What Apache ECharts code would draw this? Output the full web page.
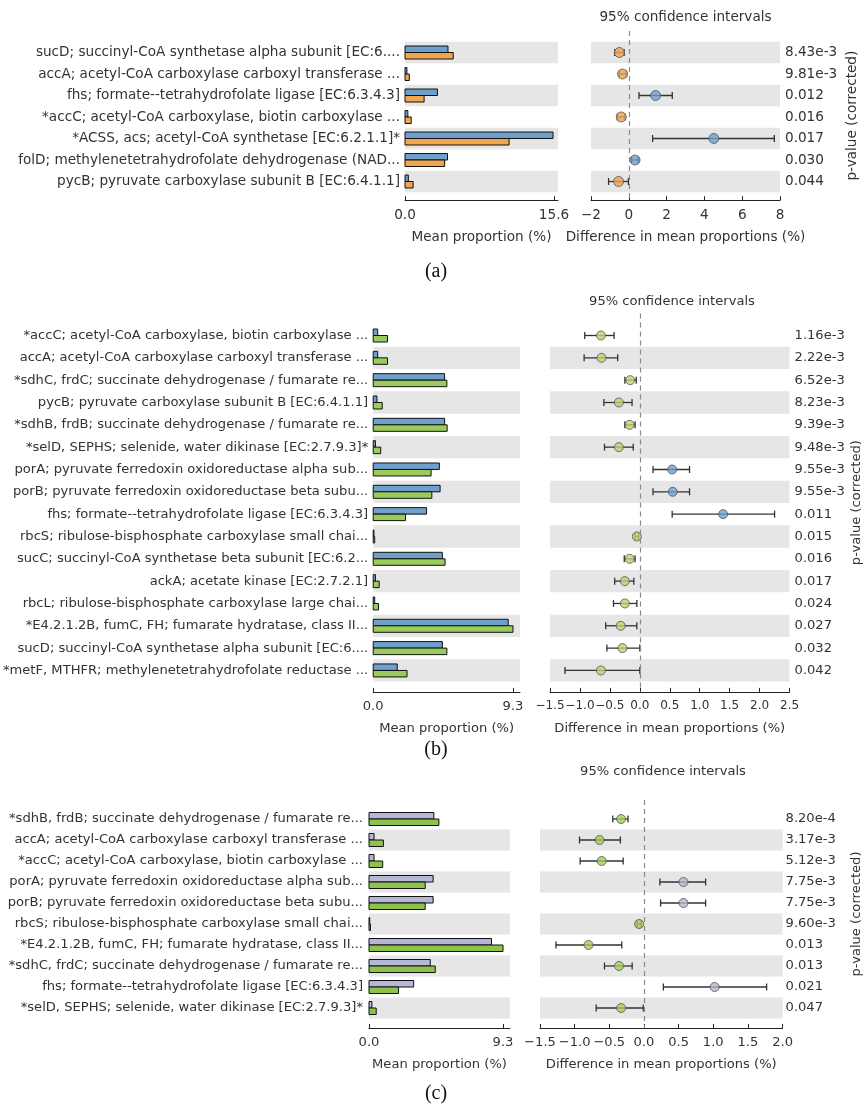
<!DOCTYPE html>
<html>
<head>
<meta charset="utf-8">
<script src="https://cdn.jsdelivr.net/npm/echarts@6/dist/echarts.min.js"></script>
<style>html,body{margin:0;background:#fff}#main{width:864px;height:1104px}</style>
</head>
<body>
<div id="main"></div>
<script>
var chartDom = document.getElementById('main');
var myChart = echarts.init(chartDom);

// (a)
let labelsA = [
  'sucD; succinyl-CoA synthetase alpha subunit [EC:6....',
  'accA; acetyl-CoA carboxylase carboxyl transferase ...',
  'fhs; formate--tetrahydrofolate ligase [EC:6.3.4.3]',
  '*accC; acetyl-CoA carboxylase, biotin carboxylase ...',
  '*ACSS, acs; acetyl-CoA synthetase [EC:6.2.1.1]*',
  'folD; methylenetetrahydrofolate dehydrogenase (NAD...',
  'pycB; pyruvate carboxylase subunit B [EC:6.4.1.1]'
];
let g1A = [4.5, 0.2, 3.4, 0.3, 15.5, 4.45, 0.35];
let g2A = [5.05, 0.45, 2.0, 0.65, 10.9, 4.15, 0.85];
let diffA = [-0.5, -0.33, 1.42, -0.4, 4.5, 0.33, -0.54];
let loA = [-0.75, -0.5, 0.54, -0.6, 1.26, 0.15, -1.07];
let hiA = [-0.25, -0.15, 2.3, -0.2, 7.7, 0.5, -0.02];
let pA = ['8.43e-3', '9.81e-3', '0.012', '0.016', '0.017', '0.030', '0.044'];

// (b)
let labelsB = [
  '*accC; acetyl-CoA carboxylase, biotin carboxylase ...',
  'accA; acetyl-CoA carboxylase carboxyl transferase ...',
  '*sdhC, frdC; succinate dehydrogenase / fumarate re...',
  'pycB; pyruvate carboxylase subunit B [EC:6.4.1.1]',
  '*sdhB, frdB; succinate dehydrogenase / fumarate re...',
  '*selD, SEPHS; selenide, water dikinase [EC:2.7.9.3]*',
  'porA; pyruvate ferredoxin oxidoreductase alpha sub...',
  'porB; pyruvate ferredoxin oxidoreductase beta subu...',
  'fhs; formate--tetrahydrofolate ligase [EC:6.3.4.3]',
  'rbcS; ribulose-bisphosphate carboxylase small chai...',
  'sucC; succinyl-CoA synthetase beta subunit [EC:6.2...',
  'ackA; acetate kinase [EC:2.7.2.1]',
  'rbcL; ribulose-bisphosphate carboxylase large chai...',
  '*E4.2.1.2B, fumC, FH; fumarate hydratase, class II...',
  'sucD; succinyl-CoA synthetase alpha subunit [EC:6....',
  '*metF, MTHFR; methylenetetrahydrofolate reductase ...'
];
let g1B = [0.3, 0.3, 4.75, 0.25, 4.75, 0.15, 4.4, 4.45, 3.55, 0.05, 4.6, 0.15, 0.1, 8.98, 4.6, 1.6];
let g2B = [0.95, 0.95, 4.9, 0.6, 4.92, 0.5, 3.85, 3.9, 2.15, 0.1, 4.78, 0.4, 0.35, 9.3, 4.9, 2.25];
let diffB = [-0.65, -0.64, -0.16, -0.35, -0.17, -0.35, 0.54, 0.55, 1.39, -0.05, -0.17, -0.25, -0.25, -0.32, -0.29, -0.65];
let loB = [-0.92, -0.93, -0.25, -0.6, -0.25, -0.59, 0.22, 0.22, 0.54, -0.08, -0.26, -0.42, -0.44, -0.57, -0.55, -1.25];
let hiB = [-0.43, -0.37, -0.06, -0.13, -0.08, -0.11, 0.83, 0.83, 2.25, -0.02, -0.08, -0.1, -0.05, -0.05, 0.0, 0.0];
let pB = ['1.16e-3', '2.22e-3', '6.52e-3', '8.23e-3', '9.39e-3', '9.48e-3', '9.55e-3', '9.55e-3',
  '0.011', '0.015', '0.016', '0.017', '0.024', '0.027', '0.032', '0.042'];

// (c)
let labelsC = [
  '*sdhB, frdB; succinate dehydrogenase / fumarate re...',
  'accA; acetyl-CoA carboxylase carboxyl transferase ...',
  '*accC; acetyl-CoA carboxylase, biotin carboxylase ...',
  'porA; pyruvate ferredoxin oxidoreductase alpha sub...',
  'porB; pyruvate ferredoxin oxidoreductase beta subu...',
  'rbcS; ribulose-bisphosphate carboxylase small chai...',
  '*E4.2.1.2B, fumC, FH; fumarate hydratase, class II...',
  '*sdhC, frdC; succinate dehydrogenase / fumarate re...',
  'fhs; formate--tetrahydrofolate ligase [EC:6.3.4.3]',
  '*selD, SEPHS; selenide, water dikinase [EC:2.7.9.3]*'
];
let g1C = [4.5, 0.35, 0.35, 4.45, 4.45, 0.05, 8.5, 4.25, 3.1, 0.2];
let g2C = [4.85, 1.0, 0.95, 3.9, 3.9, 0.1, 9.3, 4.6, 2.05, 0.5];
let diffC = [-0.33, -0.64, -0.61, 0.57, 0.57, -0.07, -0.8, -0.36, 1.02, -0.33];
let loC = [-0.45, -0.93, -0.92, 0.23, 0.24, -0.1, -1.27, -0.57, 0.28, -0.69];
let hiC = [-0.23, -0.34, -0.3, 0.89, 0.89, -0.04, -0.32, -0.17, 1.77, -0.01];
let pC = ['8.20e-4', '3.17e-3', '5.12e-3', '7.75e-3', '7.75e-3', '9.60e-3', '0.013', '0.013', '0.021', '0.047'];

let panels = [
  {labels: labelsA, g1: g1A, g2: g2A, diff: diffA, lo: loA, hi: hiA, p: pA, tag: '(a)',
   c1: '#6f9fcb', c2: '#f0a650', m1: '#6f9fcb', m2: '#e9a24f',
   row0: 52.5, step: 21.5, padTop: 1.0, padBot: 0.87, fs: 13.6, tickFs: 13.6, barH: 6.5, sym: 10,
   barLeft: 405, barTick: 554, barRight: 558, barMax: 15.6, labelRight: 400,
   ciLeft: 591, ciRight: 780, ciMin: -2, ciMax: 8, ciStep: 2, ciDec: 0,
   pLeft: 785, pName: 852, titleY: 17, tagY: 272},
  {labels: labelsB, g1: g1B, g2: g2B, diff: diffB, lo: loB, hi: hiB, p: pB, tag: '(b)',
   c1: '#6f9fcb', c2: '#9bcb5c', m1: '#6f9fcb', m2: '#b8d46e',
   row0: 335.5, step: 22.33, padTop: 0.99, padBot: 0.96, fs: 13.1, tickFs: 12, barH: 6.5, sym: 9,
   barLeft: 373, barTick: 513, barRight: 520, barMax: 9.3, labelRight: 368,
   ciLeft: 550, ciRight: 794, ciMin: -1.5, ciMax: 2.5, ciStep: 0.5, ciDec: 1,
   pLeft: 799, pName: 861, titleY: 302, tagY: 750},
  {labels: labelsC, g1: g1C, g2: g2C, diff: diffC, lo: loC, hi: hiC, p: pC, tag: '(c)',
   c1: '#b4b8d6', c2: '#8fc24a', m1: '#b4b8c8', m2: '#a9cc5c',
   row0: 819, step: 21.0, padTop: 0.9, padBot: 0.95, fs: 13.1, tickFs: 13.1, barH: 6.5, sym: 9,
   barLeft: 369, barTick: 503, barRight: 510, barMax: 9.3, labelRight: 363,
   ciLeft: 540, ciRight: 786, ciMin: -1.5, ciMax: 2.0, ciStep: 0.5, ciDec: 1,
   pLeft: 789, pName: 860, titleY: 772, tagY: 1094}
];

let option = {animation: false, grid: [], xAxis: [], yAxis: [], series: [], graphic: []};
let ink = '#333';
let font = 'DejaVu Sans';

function minus(v, dec) {
  if (Math.abs(v) < 1e-9) v = 0;
  let s = v.toFixed(dec);
  return s.replace('-', '\u2212');
}

function bandSeries(xi, yi, rows, x0, x1) {
  return {
    type: 'custom', xAxisIndex: xi, yAxisIndex: yi, silent: true, z: 1,
    data: rows.map(i => [x0, i]),
    renderItem: function (params, api) {
      let i = api.value(1);
      let a = api.coord([x0, i - 0.5]);
      let b = api.coord([x1, i + 0.5]);
      return {type: 'rect', shape: {x: a[0], y: a[1], width: b[0] - a[0], height: b[1] - a[1]},
        style: {fill: '#e6e6e6'}};
    }
  };
}

function addPanel(p) {
  let n = p.labels.length;
  let gi = option.grid.length;
  let xi = option.xAxis.length;
  let yi = option.yAxis.length;
  let top = p.row0 - p.step * p.padTop;
  let height = p.step * (n - 1 + p.padTop + p.padBot);
  let yMin = -p.padTop, yMax = n - 1 + p.padBot;
  let rows = p.labels.map((_, i) => i);
  let bandRows = rows.filter(i => (n - 1 - i) % 2 === 0);
  let barMax = p.barMax * (p.barRight - p.barLeft) / (p.barTick - p.barLeft);
  let txt = {color: ink, fontFamily: font, fontSize: p.fs};

  option.grid.push({left: p.barLeft, top: top, width: p.barRight - p.barLeft, height: height});
  option.grid.push({left: p.ciLeft, top: top, width: p.ciRight - p.ciLeft, height: height});

  option.xAxis.push({
    gridIndex: gi, type: 'value', position: 'bottom', min: 0, max: barMax, splitLine: {show: false},
    axisLine: {show: true, onZero: false, lineStyle: {color: '#222'}},
    axisTick: {show: true, inside: true, length: 4, customValues: [0, p.barMax], lineStyle: {color: '#222'}},
    axisLabel: Object.assign({customValues: [0, p.barMax], margin: 8, formatter: v => v.toFixed(1)}, txt),
    name: 'Mean proportion (%)', nameLocation: 'middle', nameGap: 30, nameTextStyle: txt
  });
  option.xAxis.push({
    gridIndex: gi + 1, type: 'value', position: 'bottom', min: p.ciMin, max: p.ciMax, interval: p.ciStep,
    splitLine: {show: false},
    axisLine: {show: true, onZero: false, lineStyle: {color: '#222'}},
    axisTick: {show: true, inside: true, length: 4, lineStyle: {color: '#222'}},
    axisLabel: Object.assign({}, txt, {margin: 8, showMinLabel: true, showMaxLabel: true, hideOverlap: false,
      fontSize: p.tickFs, formatter: v => minus(v, p.ciDec)}),
    name: 'Difference in mean proportions (%)', nameLocation: 'middle', nameGap: 30, nameTextStyle: txt
  });

  option.yAxis.push({
    gridIndex: gi, type: 'value', inverse: true, min: yMin, max: yMax,
    axisLine: {show: false, onZero: false}, axisTick: {show: false}, splitLine: {show: false},
    axisLabel: Object.assign({customValues: rows, margin: p.barLeft - p.labelRight,
      formatter: v => p.labels[Math.round(v)]}, txt)
  });
  option.yAxis.push({
    gridIndex: gi + 1, type: 'value', inverse: true, min: yMin, max: yMax, show: false,
    axisLine: {onZero: false}
  });
  option.yAxis.push({
    gridIndex: gi + 1, type: 'value', inverse: true, min: yMin, max: yMax, position: 'right',
    axisLine: {show: false, onZero: false}, axisTick: {show: false}, splitLine: {show: false},
    axisLabel: Object.assign({customValues: rows, margin: p.pLeft - p.ciRight,
      formatter: v => p.p[Math.round(v)]}, txt),
    name: 'p-value (corrected)', nameLocation: 'middle', nameRotate: 90,
    nameGap: p.pName - p.ciRight - p.fs / 2, nameTextStyle: txt
  });

  option.series.push(bandSeries(xi, yi, bandRows, 0, barMax));
  option.series.push(bandSeries(xi + 1, yi + 1, bandRows, p.ciMin, p.ciMax));

  // paired bars
  option.series.push({
    type: 'custom', xAxisIndex: xi, yAxisIndex: yi, z: 2,
    data: rows.map(i => [i, p.g1[i], p.g2[i]]),
    encode: {x: [1, 2], y: 0},
    renderItem: function (params, api) {
      let i = api.value(0);
      let base = api.coord([0, i]);
      let e1 = api.coord([api.value(1), i]);
      let e2 = api.coord([api.value(2), i]);
      let h = p.barH;
      return {type: 'group', children: [
        {type: 'rect', shape: {x: base[0], y: base[1] - h, width: e1[0] - base[0], height: h},
          style: {fill: p.c1, stroke: '#111', lineWidth: 1}},
        {type: 'rect', shape: {x: base[0], y: base[1], width: e2[0] - base[0], height: h},
          style: {fill: p.c2, stroke: '#111', lineWidth: 1}}
      ]};
    }
  });

  // error bars
  option.series.push({
    type: 'custom', xAxisIndex: xi + 1, yAxisIndex: yi + 1, z: 3,
    data: rows.map(i => [i, p.lo[i], p.hi[i]]),
    encode: {x: [1, 2], y: 0},
    renderItem: function (params, api) {
      let i = api.value(0);
      let a = api.coord([api.value(1), i]);
      let b = api.coord([api.value(2), i]);
      let c = 3.5;
      let st = {stroke: '#333', lineWidth: 1.3};
      return {type: 'group', children: [
        {type: 'line', shape: {x1: a[0], y1: a[1], x2: b[0], y2: b[1]}, style: st},
        {type: 'line', shape: {x1: a[0], y1: a[1] - c, x2: a[0], y2: a[1] + c}, style: st},
        {type: 'line', shape: {x1: b[0], y1: b[1] - c, x2: b[0], y2: b[1] + c}, style: st}
      ]};
    }
  });

  // mean difference points + zero line
  option.series.push({
    type: 'scatter', xAxisIndex: xi + 1, yAxisIndex: yi + 1, z: 4, symbolSize: p.sym,
    data: rows.map(i => ({value: [p.diff[i], i],
      itemStyle: {color: p.diff[i] >= 0 ? p.m1 : p.m2, borderColor: '#555', borderWidth: 1}})),
    markLine: {
      silent: true, symbol: 'none', label: {show: false},
      lineStyle: {color: '#8a8a8a', type: [5, 4], width: 1.2},
      data: [{xAxis: 0}]
    }
  });

  option.graphic.push({
    type: 'text', x: (p.ciLeft + p.ciRight) / 2, y: p.titleY,
    style: {text: '95% confidence intervals', fill: ink, font: p.fs + 'px "DejaVu Sans"',
      textAlign: 'center', textVerticalAlign: 'middle'}
  });
  option.graphic.push({
    type: 'text', x: 436, y: p.tagY,
    style: {text: p.tag, fill: '#111', font: '20px "Liberation Serif"',
      textAlign: 'center', textVerticalAlign: 'middle'}
  });
}

panels.forEach(addPanel);

option && myChart.setOption(option);
</script>
</body>
</html>
